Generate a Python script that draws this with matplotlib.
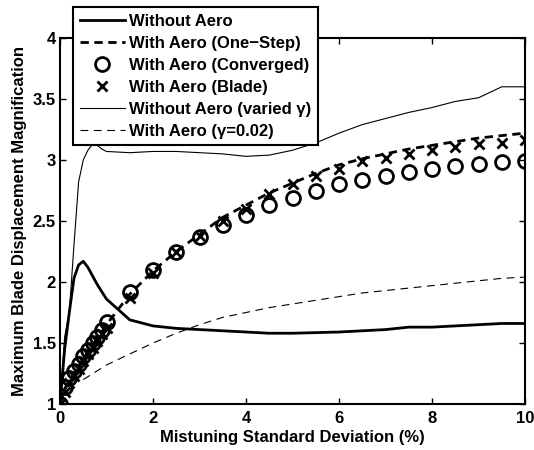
import matplotlib
matplotlib.use("Agg")
import matplotlib.pyplot as plt

plt.rcParams['font.family'] = ['Liberation Sans', 'DejaVu Sans']
plt.rcParams['font.weight'] = 'bold'
plt.rcParams['axes.labelweight'] = 'bold'
plt.rcParams['font.size'] = 12

# mistuning std dev (%) where the runs were done
sigma = [0, 0.1, 0.2, 0.3, 0.4, 0.5, 0.6, 0.7, 0.8, 0.9, 1.0,
         1.5, 2, 2.5, 3, 3.5, 4, 4.5, 5, 5.5, 6, 6.5, 7, 7.5, 8, 8.5, 9, 9.5, 10]
sigma_gamma = [0.5, 1.0, 1.5, 2, 2.5, 3, 3.5, 4, 4.5, 5, 5.5, 6, 6.5, 7,
               7.5, 8, 8.5, 9, 9.5, 10]

without_aero = [1.00, 1.45, 1.75, 2.03, 2.14, 2.17, 2.12, 2.05, 1.98, 1.92, 1.86,
                1.69, 1.64, 1.62, 1.61, 1.60, 1.59, 1.58, 1.58, 1.585, 1.59, 1.60,
                1.61, 1.63, 1.63, 1.64, 1.65, 1.66, 1.66]
one_step = [1.00, 1.12, 1.19, 1.25, 1.31, 1.37, 1.43, 1.48, 1.54, 1.59, 1.65,
            1.90, 2.09, 2.25, 2.39, 2.53, 2.63, 2.73, 2.81, 2.89, 2.96, 3.01,
            3.05, 3.09, 3.12, 3.15, 3.18, 3.20, 3.22]
converged = [1.00, 1.14, 1.21, 1.27, 1.33, 1.39, 1.44, 1.50, 1.55, 1.61, 1.67,
             1.92, 2.10, 2.25, 2.37, 2.47, 2.55, 2.63, 2.69, 2.75, 2.80, 2.84,
             2.87, 2.90, 2.93, 2.95, 2.97, 2.98, 2.99]
blade = [1.00, 1.10, 1.17, 1.23, 1.29, 1.35, 1.41, 1.46, 1.52, 1.57, 1.62,
         1.87, 2.07, 2.25, 2.38, 2.50, 2.60, 2.72, 2.80, 2.87, 2.93, 2.99,
         3.02, 3.05, 3.08, 3.11, 3.13, 3.14, 3.16]
varied_gamma = [1.00, 1.55, 1.75, 2.30, 2.82, 3.00, 3.08, 3.13, 3.12, 3.09, 3.07,
                3.06, 3.07, 3.07, 3.06, 3.05, 3.03, 3.04, 3.08, 3.14, 3.22, 3.29,
                3.34, 3.39, 3.43, 3.48, 3.51, 3.60, 3.60]
aero_gamma = [1.20, 1.32, 1.41, 1.50, 1.58, 1.65, 1.71, 1.75, 1.79, 1.82, 1.85,
              1.88, 1.91, 1.93, 1.95, 1.97, 1.99, 2.01, 2.03, 2.04]

labels = ["Without Aero", "With Aero (One\u2212Step)", "With Aero (Converged)",
          "With Aero (Blade)", "Without Aero (varied \u03b3)", "With Aero (\u03b3=0.02)"]

fig = plt.figure(figsize=(5.34, 4.5), dpi=100)
ax = fig.add_axes([60 / 534, 46 / 450, 465 / 534, 366 / 450])

ax.plot(sigma, without_aero, 'k-', lw=2, label=labels[0])
ax.plot(sigma, one_step, 'k--', lw=2, dashes=(3, 2), label=labels[1])
ax.plot(sigma, converged, 'o', ms=10, mfc='none', mec='k', mew=2, label=labels[2])
ax.plot(sigma, blade, 'x', ms=7, mec='k', mew=2, label=labels[3])
ax.plot(sigma, varied_gamma, 'k-', lw=0.8, label=labels[4])
ax.plot(sigma_gamma, aero_gamma, 'k--', lw=0.8, dashes=(7, 5), label=labels[5])

ax.set_xlim(0, 10)
ax.set_ylim(1, 4)
ax.set_xticks([0, 2, 4, 6, 8, 10])
ax.set_xticklabels(['0', '2', '4', '6', '8', '10'], fontweight='bold')
ax.set_yticks([1, 1.5, 2, 2.5, 3, 3.5, 4])
ax.set_yticklabels(['1', '1.5', '2', '2.5', '3', '3.5', '4'], fontweight='bold')
ax.tick_params(direction='in', length=4, width=1, top=True, right=True, pad=3)
ax.tick_params(axis='x', pad=5)
for s in ax.spines.values():
    s.set_linewidth(1.5)

ax.set_xlabel("Mistuning Standard Deviation (%)", labelpad=3)
ax.set_ylabel("Maximum Blade Displacement Magnification", labelpad=4)

leg = ax.legend(loc='upper left', bbox_to_anchor=(73 / 534, 1 - 7 / 450),
                bbox_transform=fig.transFigure, fancybox=False, framealpha=1,
                edgecolor='k', borderaxespad=0, handlelength=2.7,
                handletextpad=0.25, labelspacing=0.42, borderpad=0.4,
                numpoints=1, prop={'weight': 'bold', 'size': 12})
leg.get_frame().set_linewidth(1.5)

fig.savefig("out.png", dpi=100)
